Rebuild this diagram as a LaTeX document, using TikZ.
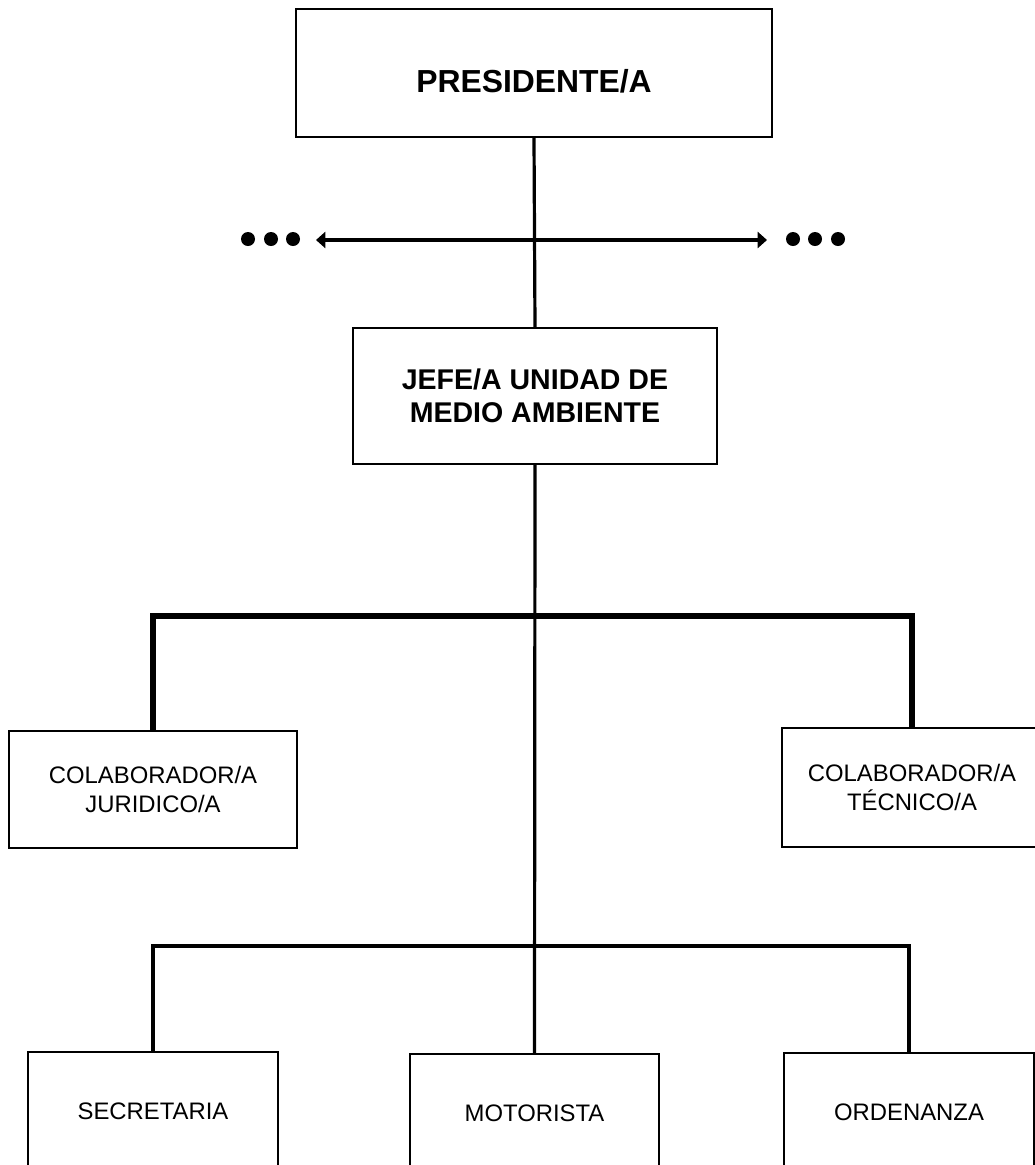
\documentclass[tikz,border=0pt]{standalone}
\usepackage{fontspec}
\setmainfont{Liberation Sans}
\usetikzlibrary{arrows.meta}
\begin{document}
\begin{tikzpicture}[x=0.75pt,y=-0.75pt,
  box/.style={draw=black,line width=1.5pt,fill=white,align=center,inner sep=0pt},
  conn/.style={line width=2.4pt},
  thickconn/.style={line width=4pt},
  dot/.style={circle,fill=black,inner sep=0pt,minimum size=10.5pt},
  boldtxt/.style={font=\fontsize{21.4}{24.75}\selectfont\bfseries},
  regtxt/.style={font=\fontsize{17.9}{21.75}\selectfont}
]
\useasboundingbox (0,0) rectangle (1035,1165);
\clip (0,0) rectangle (1035,1165);
% boxes
\node[box,minimum width=357pt,minimum height=96pt,text height=29pt,text depth=0pt,
      font=\fontsize{23.9}{28}\selectfont\bfseries] (pres) at (534,73) {PRESIDENTE/A};
\node[box,boldtxt,minimum width=273pt,minimum height=102pt] (jefe) at (535,396)
  {JEFE/A UNIDAD DE\\MEDIO AMBIENTE};
\node[box,regtxt,minimum width=216pt,minimum height=87.75pt] (colj) at (153,789.5)
  {COLABORADOR/A\\JURIDICO/A};
\node[box,regtxt,minimum width=195pt,minimum height=89.25pt] (colt) at (912,787.5)
  {COLABORADOR/A\\TÉCNICO/A};
\node[box,regtxt,minimum width=187.5pt,minimum height=88.5pt] (sec) at (153,1111)
  {SECRETARIA};
\node[box,regtxt,minimum width=186.75pt,minimum height=88.5pt] (mot) at (534.5,1113)
  {MOTORISTA};
\node[box,regtxt,minimum width=187.5pt,minimum height=88.5pt] (ord) at (909,1112)
  {ORDENANZA};
% dots
\node[dot] (d1) at (248,239) {};
\node[dot] (d2) at (271,239) {};
\node[dot] (d3) at (293,239) {};
\node[dot] (d4) at (793,239) {};
\node[dot] (d5) at (815,239) {};
\node[dot] (d6) at (838,239) {};
% arrow line
\coordinate (al) at (316,240);
\coordinate (ar) at (767,240);
\draw[conn,{Triangle[length=7pt,width=12pt]}-{Triangle[length=7pt,width=12pt]}] (al) -- (ar);
% connectors
\draw[conn] (pres.south) -- (jefe.north);
\draw[conn] (jefe.south) -- (mot.north);
\coordinate (tb) at (534,616);
\draw[thickconn] (colj.north) -- (colj.north |- tb) -- (colt.north |- tb) -- (colt.north);
\coordinate (bb) at (534,946);
\draw[conn] (sec.north) -- (sec.north |- bb) -- (ord.north |- bb) -- (ord.north);
\end{tikzpicture}
\end{document}
